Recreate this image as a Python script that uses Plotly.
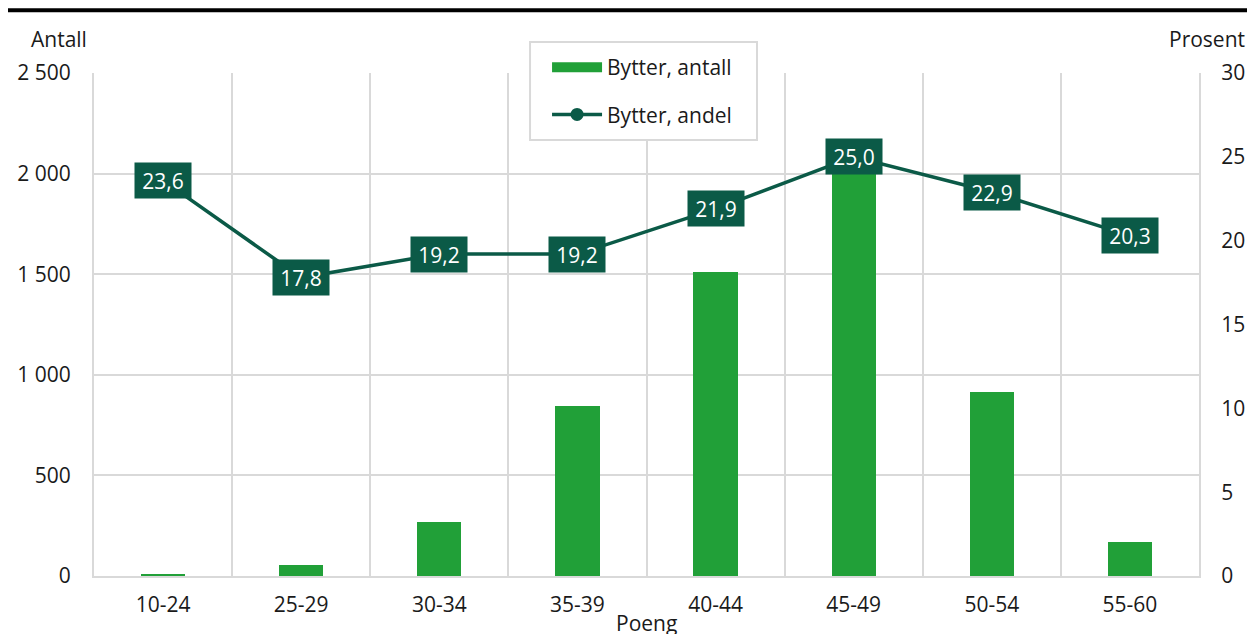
import plotly.graph_objects as go

categories = ["10-24", "25-29", "30-34", "35-39", "40-44", "45-49", "50-54", "55-60"]
antall = [10, 55, 268, 845, 1511, 2080, 915, 169]
andel = [23.6, 17.8, 19.2, 19.2, 21.9, 25.0, 22.9, 20.3]
andel_labels = ["23,6", "17,8", "19,2", "19,2", "21,9", "25,0", "22,9", "20,3"]
left_ticks = [0, 500, 1000, 1500, 2000, 2500]
left_ticktext = ["0", "500", "1 000", "1 500", "2 000", "2 500"]
right_ticks = [0, 5, 10, 15, 20, 25, 30]

BAR = "#21a038"
LINE = "#0b5a47"
GRID = "#d9d9d9"
FONT = "Open Sans"
FS = 21

fig = go.Figure()
fig.add_trace(go.Bar(x=categories, y=antall, name="Bytter, antall", showlegend=False,
                     marker=dict(color=BAR, line=dict(width=0)), width=0.32))
# legend entry for bars (wide rectangle symbol)
fig.add_trace(go.Scatter(x=[None], y=[None], name="Bytter, antall", mode="lines",
                         line=dict(color=BAR, width=14), legendgroup="a"))
fig.add_trace(go.Scatter(x=categories, y=andel, name="Bytter, andel", yaxis="y2",
                         mode="lines+markers", line=dict(color=LINE, width=3.5),
                         marker=dict(color=LINE, size=13), legendgroup="b"))

for c, v, t in zip(categories, andel, andel_labels):
    fig.add_annotation(x=c, y=v, xref="x", yref="y2", text=t, showarrow=False,
                       bgcolor=LINE, font=dict(color="white", size=FS, family=FONT),
                       width=52, height=31, borderpad=2)

fig.update_layout(
    width=1239, height=626,
    margin=dict(l=86, r=48, t=65, b=58, autoexpand=False),
    plot_bgcolor="white", paper_bgcolor="white",
    font=dict(family=FONT, size=FS, color="#1a1a1a"),
    bargap=0,
    showlegend=True,
    legend=dict(x=0.41, xanchor="left", y=1.0517, yanchor="top",
                borderwidth=0, bgcolor="rgba(0,0,0,0)",
                font=dict(size=FS), traceorder="grouped", tracegroupgap=17, itemwidth=50),
    xaxis=dict(type="category", showgrid=True, gridcolor=GRID, gridwidth=2, automargin=False,
               tickson="boundaries", ticks="", showline=True, linecolor=GRID, linewidth=2,
               ticklabelstandoff=9),
    yaxis=dict(range=[0, 2500], tickvals=left_ticks, ticktext=left_ticktext, automargin=False,
               showgrid=True, gridcolor=GRID, gridwidth=2, zeroline=False,
               showline=True, linecolor=GRID, linewidth=2, ticks="", ticklabelstandoff=17),
    yaxis2=dict(range=[0, 30], tickvals=right_ticks, overlaying="y", side="right", automargin=False,
                showgrid=False, zeroline=False, showline=True, linecolor=GRID, linewidth=2,
                ticks="", ticklabelstandoff=16),
)

# legend frame
fig.add_shape(type="rect", xref="paper", yref="paper", x0=0.3946, x1=0.6, y0=0.8668, y1=1.0616,
              line=dict(color=GRID, width=2), fillcolor="white", layer="above")

fig.add_annotation(text="Poeng", xref="paper", yref="paper", x=0.5, y=-0.094,
                   xanchor="center", yanchor="middle", showarrow=False, font=dict(size=FS))
fig.add_annotation(text="Antall", xref="paper", yref="paper", x=-0.059, y=1.035,
                   xanchor="left", yanchor="bottom", showarrow=False, font=dict(size=FS))
fig.add_annotation(text="Prosent", xref="paper", yref="paper", x=1.0435, y=1.035,
                   xanchor="right", yanchor="bottom", showarrow=False, font=dict(size=FS))
fig.add_shape(type="line", xref="paper", yref="paper", x0=-0.09, x1=1.06,
              y0=1.125, y1=1.125, line=dict(color="black", width=4))

fig.write_html("out.html")
